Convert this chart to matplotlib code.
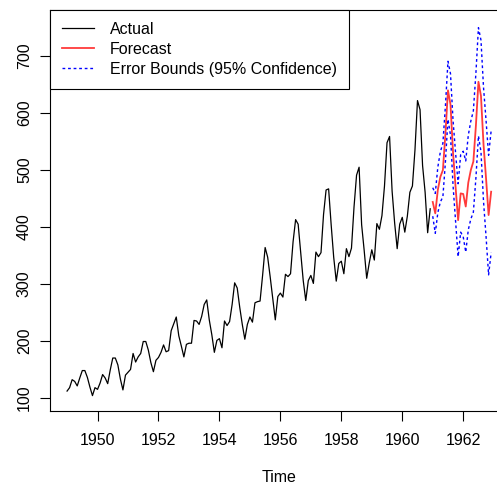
import numpy as np
import matplotlib
matplotlib.use("Agg")
import matplotlib.pyplot as plt

plt.rcParams['font.family'] = ['Liberation Sans', 'DejaVu Sans']

# monthly air passengers 1949-1960 (actual)
actual = [112, 118, 132, 129, 121, 135, 148, 148, 136, 119, 104, 118,
          115, 126, 141, 135, 125, 149, 170, 170, 158, 133, 114, 140,
          145, 150, 178, 163, 172, 178, 199, 199, 184, 162, 146, 166,
          171, 180, 193, 181, 183, 218, 230, 242, 209, 191, 172, 194,
          196, 196, 236, 235, 229, 243, 264, 272, 237, 211, 180, 201,
          204, 188, 235, 227, 234, 264, 302, 293, 259, 229, 203, 229,
          242, 233, 267, 269, 270, 315, 364, 347, 312, 274, 237, 278,
          284, 277, 317, 313, 318, 374, 413, 405, 355, 306, 271, 306,
          315, 301, 356, 348, 355, 422, 465, 467, 404, 347, 305, 336,
          340, 318, 362, 348, 363, 435, 491, 505, 404, 359, 310, 337,
          360, 342, 406, 396, 420, 472, 548, 559, 463, 407, 362, 405,
          417, 391, 419, 461, 472, 535, 622, 606, 508, 461, 390, 432]

# forecast 1961-1962
forecast = [444, 424, 465, 488, 500, 564, 640, 615, 530, 470, 412, 459,
            458, 436, 478, 500, 515, 578, 655, 630, 545, 485, 421, 462]
upper = [469, 459, 505, 532, 547, 613, 691, 669, 587, 530, 476, 527,
         533, 516, 561, 586, 604, 670, 750, 728, 645, 587, 526, 569]
lower = [419, 389, 425, 444, 453, 515, 589, 561, 473, 410, 348, 391,
         383, 356, 395, 414, 426, 486, 560, 532, 445, 383, 316, 355]

t_act = 1949 + np.arange(len(actual)) / 12
t_fc = 1961 + np.arange(len(forecast)) / 12

fig = plt.figure(figsize=(4.97, 4.87), dpi=100)
ax = fig.add_axes([50 / 497, 76 / 487, 458 / 497, 401 / 487])

ax.plot(t_act, actual, color="black", lw=0.9, label="Actual")
ax.plot(t_fc, forecast, color="#ff3a3a", lw=1.3, label="Forecast")
ax.plot(t_fc, upper, color="blue", lw=1.0, ls=(0, (2, 2)),
        label="Error Bounds (95% Confidence)")
ax.plot(t_fc, lower, color="blue", lw=1.0, ls=(0, (2, 2)))

ax.set_xlim(1948.44, 1963.47)
ax.set_ylim(77, 781)
ax.set_xticks(range(1950, 1963, 2))
ax.set_yticks(range(100, 701, 100))
ax.tick_params(direction="out", length=7, width=0.8, labelsize=11.5)
ax.tick_params(axis="x", pad=9)
ax.tick_params(axis="y", pad=6)
for lab in ax.get_yticklabels():
    lab.set_rotation(90)
    lab.set_va("center")
for s in ax.spines.values():
    s.set_linewidth(0.8)
ax.set_xlabel("Time", fontsize=11.5, va="center")
# centre of plot box is 279 px, plot box runs past the right edge
ax.xaxis.set_label_coords(229 / 458, -67 / 401)

leg = ax.legend(loc="upper left", borderaxespad=0, fancybox=False,
                edgecolor="black", framealpha=1, fontsize=11.5,
                handlelength=2.0, handletextpad=1.0, labelspacing=0.3,
                borderpad=0.75)
leg.get_frame().set_linewidth(0.8)

fig.savefig("out.png", dpi=100)
plt.close(fig)
